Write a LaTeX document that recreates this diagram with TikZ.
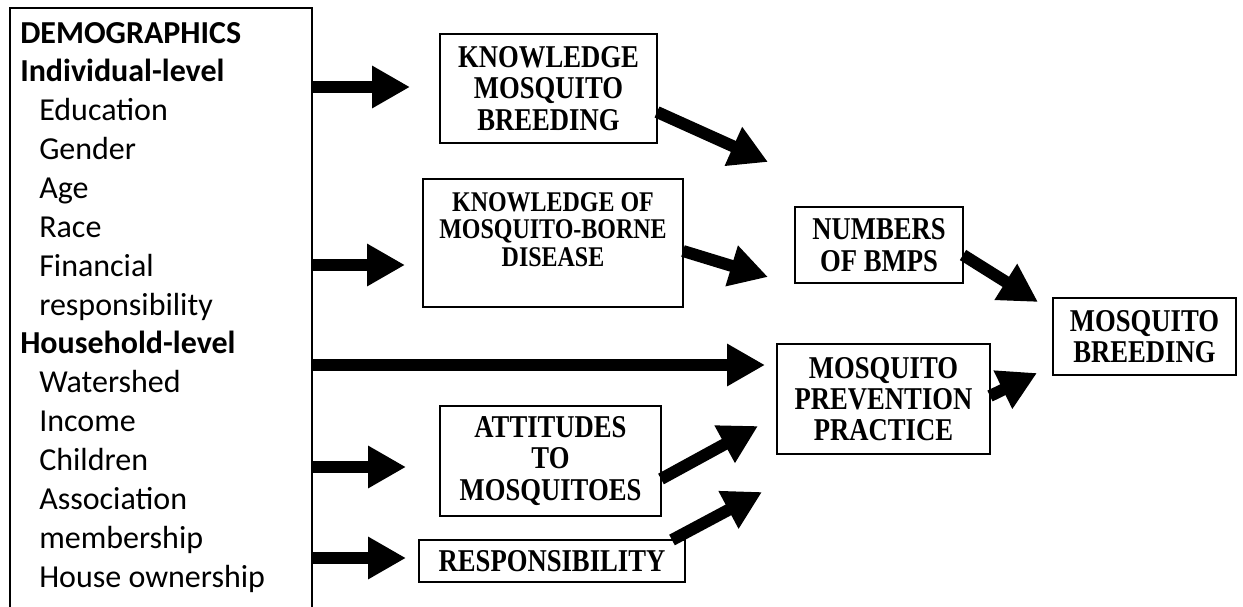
\documentclass[tikz,border=0pt]{standalone}
\usepackage{fontspec}
\setmainfont{Carlito}
\newfontfamily\tnr[FakeStretch=0.84]{Liberation Serif}
\usetikzlibrary{arrows.meta}
\tikzset{
  box/.style={draw, line width=1.5pt, inner sep=0pt, align=center,
    font=\tnr\bfseries\fontsize{23.8}{23.5}\selectfont},
  lt/.style={anchor=base west, inner sep=0pt, font=\fontsize{24}{29}\selectfont},
  fat/.style={line width=9pt, -{Triangle[length=28.5pt,width=30pt]}}
}
\begin{document}
\begin{tikzpicture}[x=0.75pt,y=-0.75pt]
\useasboundingbox (0,0) rectangle (1243,607);
% left demographics box (open at bottom)
\node[minimum width=226.5pt, minimum height=453pt, inner sep=0pt] (demo) at (161,310) {};
\draw[line width=1.5pt] (demo.south west) -- (demo.north west) -- (demo.north east) -- (demo.south east);
\foreach [count=\i] \t/\x in {{\textbf{DEMOGRAPHICS}}/20, {\textbf{Individual-level}}/20,
  Education/39, Gender/39, Age/39, Race/39, Financial/39, responsibility/39,
  {\textbf{Household-level}}/20, Watershed/39, Income/39, Children/39,
  Association/39, membership/39, House ownership/39}
  \node[lt] (l\i) at (\x,{43+38.86*(\i-1)}) {\t};
% boxes
\node[box, minimum width=162.75pt, minimum height=81.75pt] (kmb) at (548.5,88.5) {KNOWLEDGE\\MOSQUITO\\BREEDING};
\node[box, minimum width=195pt, minimum height=96pt] (kmbd) at (553,243) {};
\node[anchor=north, inner sep=0pt, align=center, font=\tnr\bfseries\fontsize{21.4}{20.8}\selectfont] (kmbdt) at (553,192) {KNOWLEDGE OF\\MOSQUITO-BORNE\\DISEASE};
\node[box, minimum width=126pt, minimum height=57pt] (num) at (879,245) {NUMBERS\\OF BMPS};
\node[box, minimum width=137.25pt, minimum height=57.75pt] (mb) at (1144.5,336.5) {MOSQUITO\\BREEDING};
\node[box, minimum width=159.75pt, minimum height=82.5pt] (mpp) at (883.5,399) {MOSQUITO\\PREVENTION\\PRACTICE};
\node[box, minimum width=165.75pt, minimum height=82.5pt] (att) at (550.5,461) {ATTITUDES\\TO\\MOSQUITOES};
\node[box, minimum width=199.5pt, minimum height=31.5pt] (resp) at (552,561) {RESPONSIBILITY};
% connector end points
\coordinate (s1) at (312,87);   \coordinate (e1) at (410,87);
\coordinate (s2) at (312,265);  \coordinate (e2) at (405,265);
\coordinate (s3) at (312,365);  \coordinate (e3) at (765,365);
\coordinate (s4) at (312,467);  \coordinate (e4) at (406,467);
\coordinate (s5) at (312,558);  \coordinate (e5) at (406,558);
\coordinate (s6) at (657,112);  \coordinate (e6) at (768,162);
\coordinate (s7) at (683,251);  \coordinate (e7) at (768,277);
\coordinate (s8) at (963,255);  \coordinate (e8) at (1038,302);
\coordinate (s9) at (990,396);  \coordinate (e9) at (1037,373);
\coordinate (s10) at (661,479); \coordinate (e10) at (758,426);
\coordinate (s11) at (672,540); \coordinate (e11) at (762,492);
\foreach \k in {1,...,11} \draw[fat] (s\k) -- (e\k);
\end{tikzpicture}
\end{document}
